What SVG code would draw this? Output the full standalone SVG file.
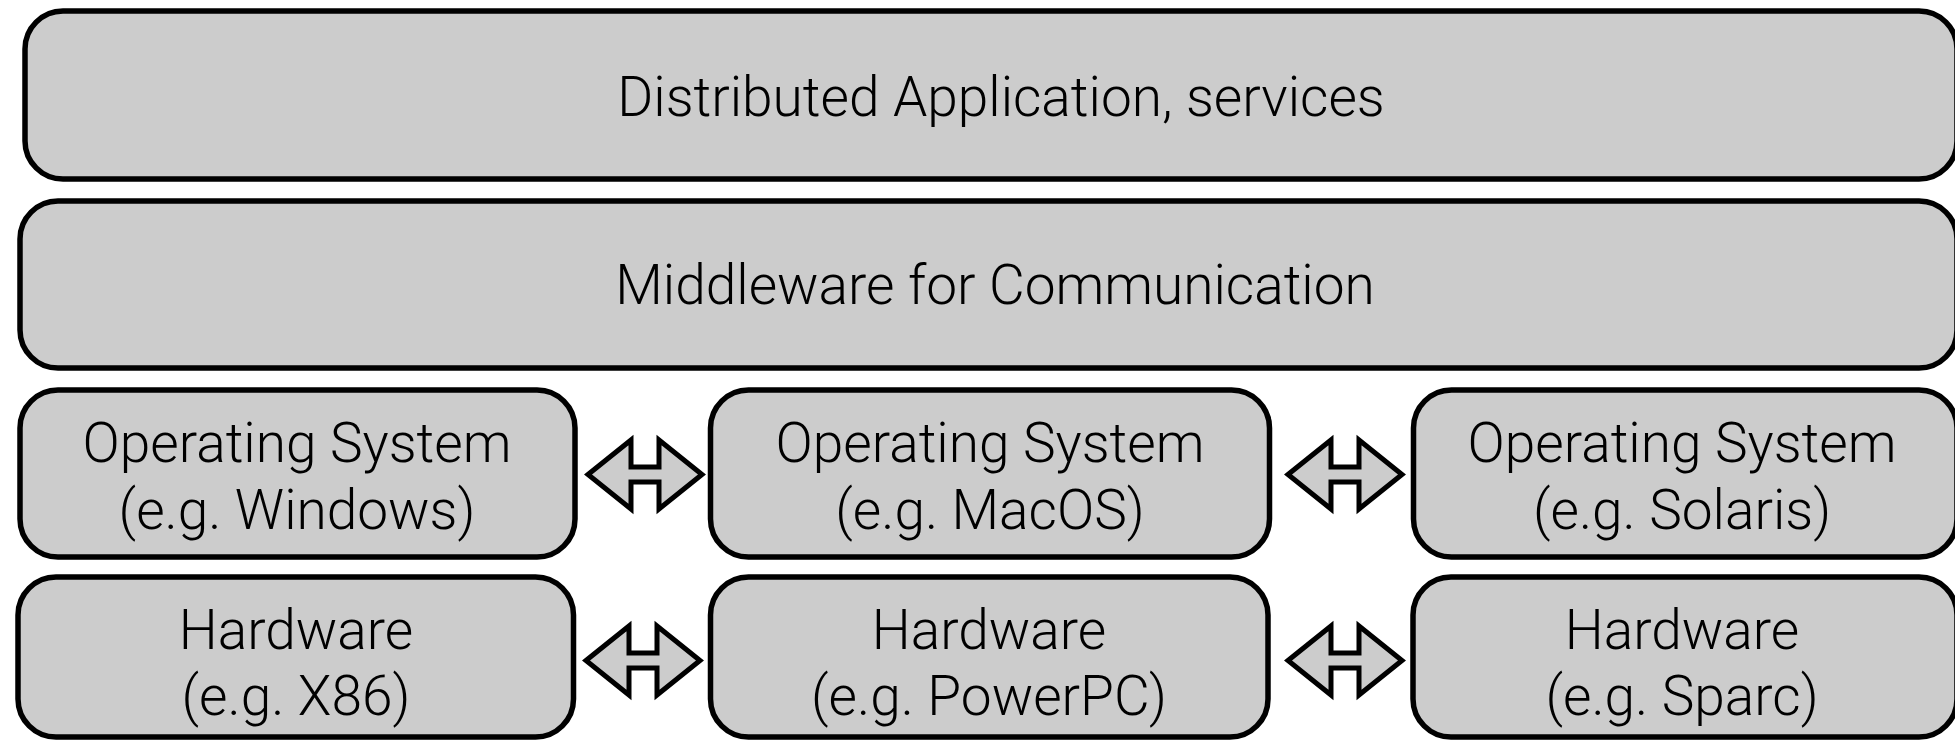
<svg xmlns="http://www.w3.org/2000/svg" width="1955" height="742" viewBox="0 0 1955 742">
  <defs>
    <style>
      .box { fill: #cccccc; stroke: #000000; stroke-width: 5.5; }
      .arrow { fill: #cccccc; stroke: #000000; stroke-width: 5; stroke-linejoin: miter; }
      .label { font-family: Roboto, "Liberation Sans", sans-serif; font-weight: 300; font-size: 55px; fill: #000000; text-anchor: middle; }
    </style>
    <!-- double-headed block arrow, centred on the origin -->
    <path id="dbl-arrow" d="M -57 0 L -14 -34.5 L -14 -7.5 L 14 -7.5 L 14 -34.5 L 57 0 L 14 34.5 L 14 7.5 L -14 7.5 L -14 34.5 Z"/>
  </defs>
  <rect width="1955" height="742" fill="#ffffff"/>

  <g id="app-layer">
    <rect class="box" x="25" y="11" width="1932" height="168" rx="38" ry="38"/>
    <text class="label" x="1001" y="116">Distributed Application, services</text>
  </g>

  <g id="middleware-layer">
    <rect class="box" x="20" y="201" width="1937" height="167" rx="38" ry="38"/>
    <text class="label" x="995" y="304">Middleware for Communication</text>
  </g>

  <g id="os-windows">
    <rect class="box" x="20" y="390" width="555" height="167" rx="38" ry="38"/>
    <text class="label" x="297" y="462">Operating System</text>
    <text class="label" x="297" y="529">(e.g. Windows)</text>
  </g>
  <g id="os-macos">
    <rect class="box" x="710.5" y="390" width="559" height="167" rx="38" ry="38"/>
    <text class="label" x="990" y="462">Operating System</text>
    <text class="label" x="990" y="529">(e.g. MacOS)</text>
  </g>
  <g id="os-solaris">
    <rect class="box" x="1413.5" y="390" width="543.5" height="167" rx="38" ry="38"/>
    <text class="label" x="1682" y="462">Operating System</text>
    <text class="label" x="1682" y="529">(e.g. Solaris)</text>
  </g>

  <g id="hw-x86">
    <rect class="box" x="18" y="577" width="555.5" height="160" rx="38" ry="38"/>
    <text class="label" x="296" y="649">Hardware</text>
    <text class="label" x="296" y="715">(e.g. X86)</text>
  </g>
  <g id="hw-powerpc">
    <rect class="box" x="710.5" y="577" width="557.5" height="160" rx="38" ry="38"/>
    <text class="label" x="989" y="649">Hardware</text>
    <text class="label" x="989" y="715">(e.g. PowerPC)</text>
  </g>
  <g id="hw-sparc">
    <rect class="box" x="1413" y="577" width="544" height="160" rx="38" ry="38"/>
    <text class="label" x="1682" y="649">Hardware</text>
    <text class="label" x="1682" y="715">(e.g. Sparc)</text>
  </g>

  <g id="connectors">
    <use class="arrow" href="#dbl-arrow" x="645" y="474.5"/>
    <use class="arrow" href="#dbl-arrow" x="1345" y="474.5"/>
    <use class="arrow" href="#dbl-arrow" x="643" y="660.5"/>
    <use class="arrow" href="#dbl-arrow" x="1345" y="660.5"/>
  </g>
</svg>
